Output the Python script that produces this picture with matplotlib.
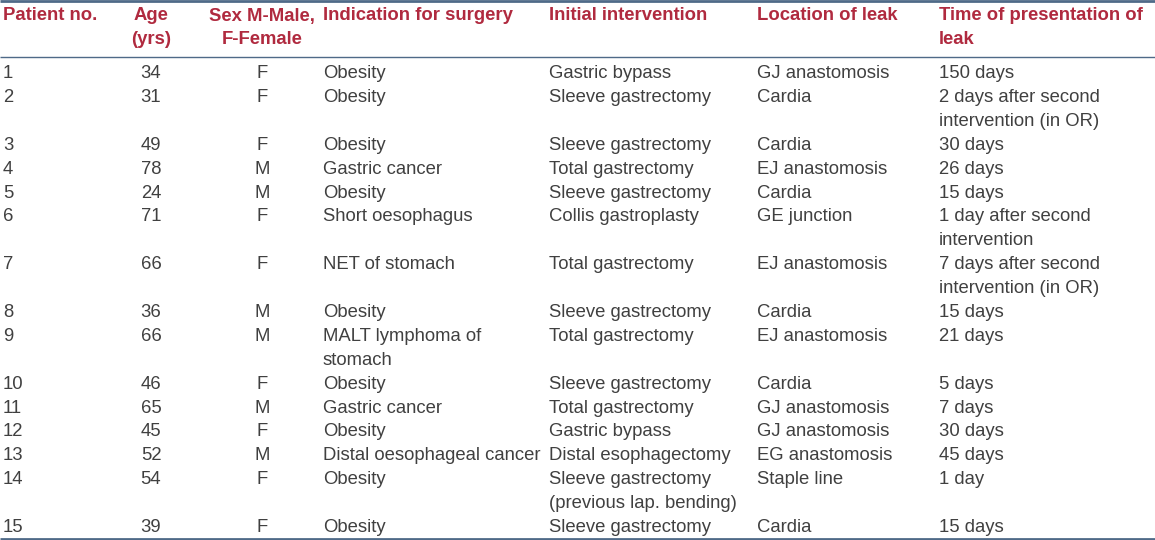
import matplotlib
matplotlib.use("Agg")
import matplotlib.pyplot as plt

W, H = 1155, 540

headers = [
    "Patient no.", "Age\n(yrs)", "Sex M-Male,\nF-Female", "Indication for surgery",
    "Initial intervention", "Location of leak", "Time of presentation of\nleak",
]
patient_no = [str(i) for i in range(1, 16)]
age = ["34", "31", "49", "78", "24", "71", "66", "36", "66", "46", "65", "45", "52", "54", "39"]
sex = ["F", "F", "F", "M", "M", "F", "F", "M", "M", "F", "M", "F", "M", "F", "F"]
indication = ["Obesity", "Obesity", "Obesity", "Gastric cancer", "Obesity", "Short oesophagus",
              "NET of stomach", "Obesity", "MALT lymphoma of\nstomach", "Obesity", "Gastric cancer",
              "Obesity", "Distal oesophageal cancer", "Obesity", "Obesity"]
intervention = ["Gastric bypass", "Sleeve gastrectomy", "Sleeve gastrectomy", "Total gastrectomy",
                "Sleeve gastrectomy", "Collis gastroplasty", "Total gastrectomy", "Sleeve gastrectomy",
                "Total gastrectomy", "Sleeve gastrectomy", "Total gastrectomy", "Gastric bypass",
                "Distal esophagectomy", "Sleeve gastrectomy\n(previous lap. bending)", "Sleeve gastrectomy"]
location = ["GJ anastomosis", "Cardia", "Cardia", "EJ anastomosis", "Cardia", "GE junction",
            "EJ anastomosis", "Cardia", "EJ anastomosis", "Cardia", "GJ anastomosis",
            "GJ anastomosis", "EG anastomosis", "Staple line", "Cardia"]
time_leak = ["150 days", "2 days after second\nintervention (in OR)", "30 days", "26 days", "15 days",
             "1 day after second\nintervention", "7 days after second\nintervention (in OR)", "15 days",
             "21 days", "5 days", "7 days", "30 days", "45 days", "1 day", "15 days"]

columns = [patient_no, age, sex, indication, intervention, location, time_leak]
col_x = [3, 151, 262, 323, 549, 757, 939]
col_ha = ["left", "center", "center", "left", "left", "left", "left"]

HEAD_COLOR = "#B02A3F"
TEXT_COLOR = "#404040"
LINE_COLOR = "#4f6a88"
FONT = "Liberation Sans"
FS = 13.35
PITCH = 23.9

fig = plt.figure(figsize=(W / 100, H / 100), dpi=100)
ax = fig.add_axes([0, 0, 1, 1])
ax.set_xlim(0, W)
ax.set_ylim(H, 0)
ax.axis("off")

# header
for x, ha, h in zip(col_x, col_ha, headers):
    for k, line in enumerate(h.split("\n")):
        ax.text(x, 16 + k * PITCH, line, ha=ha, va="center", color=HEAD_COLOR,
                fontsize=FS, fontweight="bold", family=FONT)

# body
y = 73.5
for r in range(len(patient_no)):
    nlines = max(col[r].count("\n") + 1 for col in columns)
    for x, ha, col in zip(col_x, col_ha, columns):
        for k, line in enumerate(col[r].split("\n")):
            ax.text(x, y + k * PITCH, line, ha=ha, va="center", color=TEXT_COLOR,
                    fontsize=FS, family=FONT)
    y += nlines * PITCH

ax.plot([0, W], [1, 1], color=LINE_COLOR, lw=2.0, solid_capstyle="butt")
ax.plot([0, W], [56.5, 56.5], color=LINE_COLOR, lw=1.0, solid_capstyle="butt")
ax.plot([0, W], [538.5, 538.5], color=LINE_COLOR, lw=2.0, solid_capstyle="butt")

fig.savefig("out.png", dpi=100, facecolor="white")
